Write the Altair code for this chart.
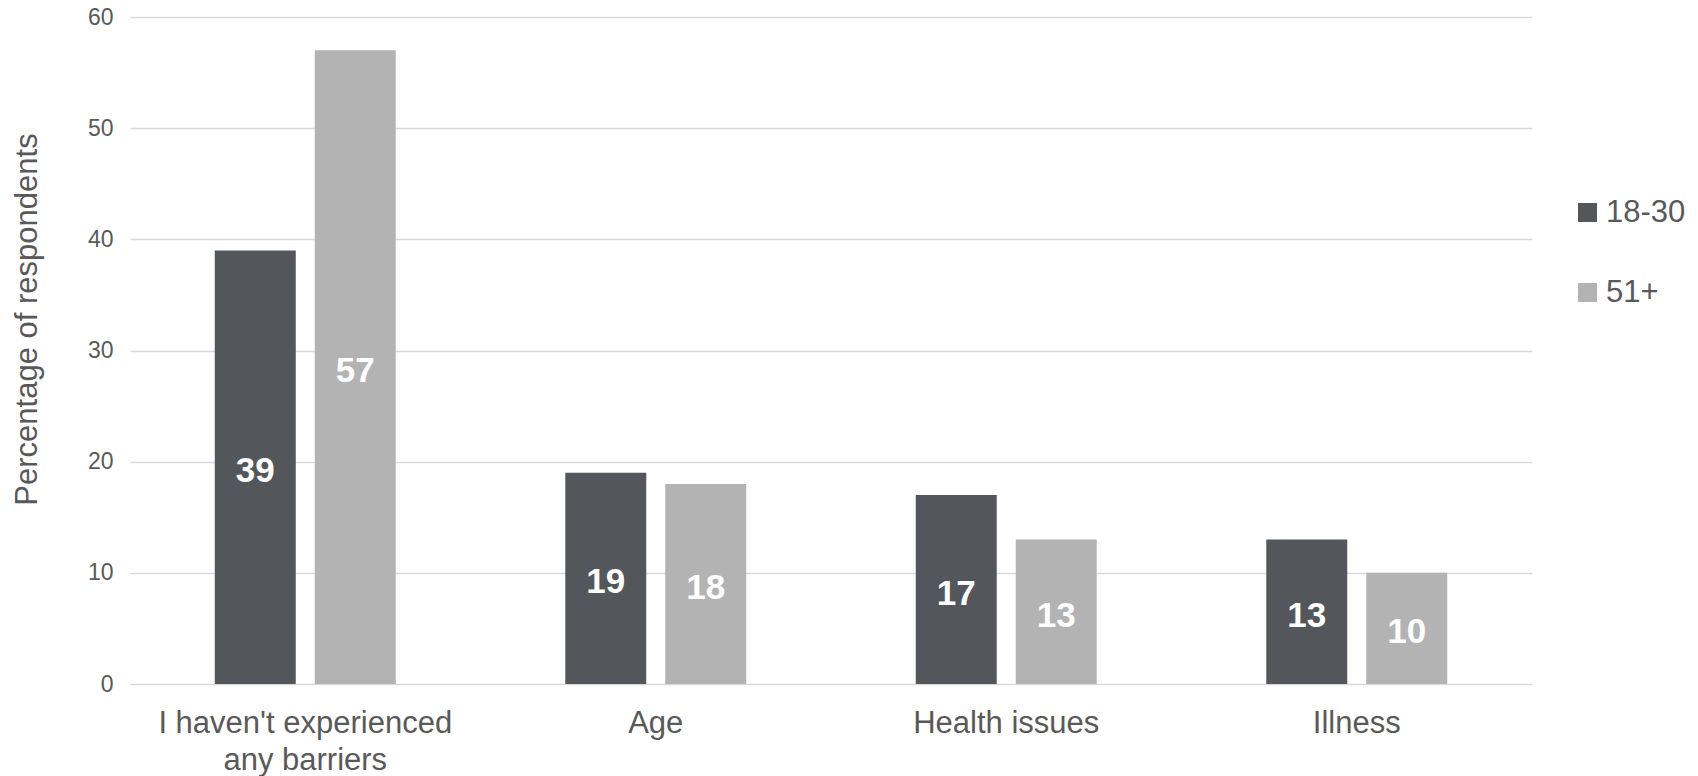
import altair as alt
import pandas as pd

categories = ["I haven't experienced any barriers", "Age", "Health issues", "Illness"]
groups = ["18-30", "51+"]
values_18_30 = [39, 19, 17, 13]
values_51 = [57, 18, 13, 10]
colors = ["#53565A", "#B3B3B3"]

rows = []
for c, v in zip(categories, values_18_30):
    rows.append({"category": c, "group": "18-30", "value": v})
for c, v in zip(categories, values_51):
    rows.append({"category": c, "group": "51+", "value": v})
df = pd.DataFrame(rows)

FONT = "Liberation Sans"
GREY = "#595959"

x = alt.X(
    "category:N",
    sort=categories,
    scale=alt.Scale(paddingInner=0, paddingOuter=0),
    axis=alt.Axis(
        title=None,
        labelAngle=0,
        labelFontSize=31,
        labelFont=FONT,
        labelColor=GREY,
        labelPadding=24,
        labelLimit=500,
        labelLineHeight=37,
        labelExpr="split(replace(datum.label, 'experienced ', 'experienced|'), '|')",
        domain=False,
        ticks=False,
        grid=False,
    ),
)
xoff = alt.XOffset(
    "group:N",
    sort=groups,
    scale=alt.Scale(paddingInner=0.19, paddingOuter=0.848),
)

base = alt.Chart(df)

bars = base.mark_bar().encode(
    x=x,
    xOffset=xoff,
    y=alt.Y(
        "value:Q",
        scale=alt.Scale(domain=[0, 60]),
        axis=alt.Axis(
            title="Percentage of respondents",
            values=[0, 10, 20, 30, 40, 50, 60],
            labelFontSize=23,
            labelFont=FONT,
            labelColor=GREY,
            labelPadding=17,
            titleFontSize=31,
            titleFont=FONT,
            titleColor=GREY,
            titleFontWeight="normal",
            titleX=-103,
            titleY=302,
            titleAngle=-90,
            titleAlign="center",
            titleBaseline="middle",
            domain=False,
            ticks=False,
            grid=True,
            gridColor="#D9D9D9",
            gridWidth=1.5,
        ),
    ),
    color=alt.Color(
        "group:N",
        sort=groups,
        scale=alt.Scale(domain=groups, range=colors),
        legend=alt.Legend(
            title=None,
            orient="none",
            legendX=1442,
            legendY=180,
            symbolType="square",
            symbolSize=361,
            symbolStrokeWidth=0,
            labelFontSize=31,
            labelFont=FONT,
            labelColor=GREY,
            labelOffset=3,
            rowPadding=48,
        ),
    ),
)

labels = base.transform_calculate(mid="datum.value / 2").mark_text(
    color="white", fontSize=35, fontWeight="bold", font=FONT, baseline="middle", dy=4
).encode(
    x=x,
    xOffset=xoff,
    y=alt.Y("mid:Q"),
    text=alt.Text("value:Q"),
)

chart = (
    alt.layer(bars, labels)
    .properties(
        width=1402,
        height=667,
        background="white",
        autosize=alt.AutoSizeParams(type="none"),
        padding={"left": 130, "top": 17, "right": 166, "bottom": 92},
    )
    .configure_view(strokeWidth=0, stroke=None)
)

chart.save("out.html", embed_options={"renderer": "svg", "actions": False})
